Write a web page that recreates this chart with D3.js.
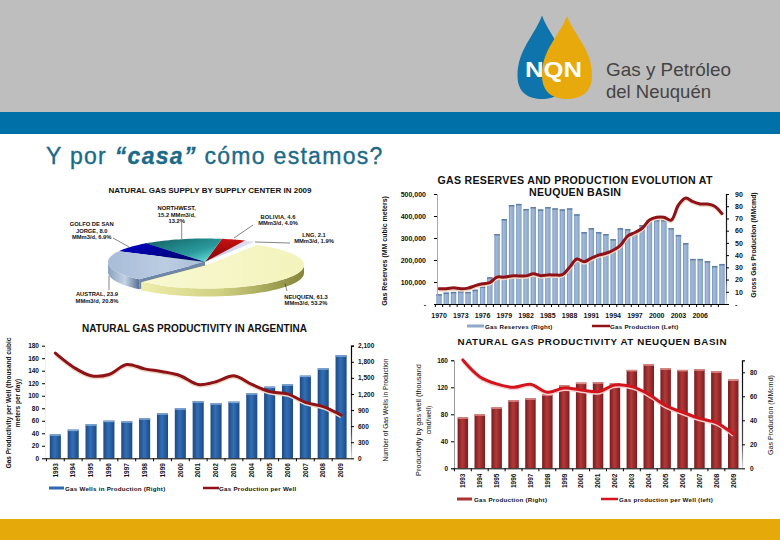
<!DOCTYPE html>
<html><head><meta charset="utf-8">
<script src="https://cdn.jsdelivr.net/npm/d3@7"></script>
<style>
html,body{margin:0;padding:0;background:#fff}
svg{display:block}
text{font-family:"Liberation Sans",Arial,sans-serif;fill:#111}
</style></head><body>
<svg id="c" width="780" height="540"></svg>
<script>
const pageTitle = ["Y por ", "“casa”", " cómo estamos?"];
const logoLines = ["Gas y Petróleo", "del Neuquén"];

const pieTitle = "NATURAL GAS SUPPLY BY SUPPLY CENTER IN 2009";
const pieNames = ["NEUQUEN","AUSTRAL","GOLFO","NORTHWEST","BOLIVIA","LNG"];
const pieValues = [61.3, 23.9, 8.0, 15.2, 4.6, 2.1];
const pieLabels = [
  ["NEUQUEN, 61.3","MMm3/d, 53.2%"],
  ["AUSTRAL, 23.9","MMm3/d, 20.8%"],
  ["GOLFO DE SAN","JORGE, 8.0","MMm3/d, 6.9%"],
  ["NORTHWEST,","15.2 MMm3/d,","13.2%"],
  ["BOLIVIA, 4.6","MMm3/d, 4.0%"],
  ["LNG, 2.1","MMm3/d, 1.9%"]
];

const reserveYears = d3.range(1970, 2010);
const reserveValues = [45,52,55,58,55,65,80,122,318,386,450,455,432,441,430,441,435,430,435,408,327,345,327,318,295,345,341,327,359,382,382,382,345,314,277,205,205,195,173,182].map(v=>v*1000);
const productionValues = [12.5,12.5,13.3,12.5,13,15,16.5,17.5,22,22,23,23,23,24.8,23.2,23.8,23.8,24,30,36.8,34.6,37.6,40,41.5,44,48,55.6,58.5,62,68.7,71,71,68.7,81,86.7,83.7,81.8,81.8,80,73.9];
const reserveTicks = [0,100000,200000,300000,400000,500000];
const productionTicks = [0,10,20,30,40,50,60,70,80,90];
const reserveYearTicks = [1970,1973,1976,1979,1982,1985,1988,1991,1994,1997,2000,2003,2006];

const prodYears = d3.range(1993, 2010);
const argWells = [447,535,634,702,690,746,839,932,1063,1026,1057,1212,1337,1380,1542,1678,1921];
const argPerWell = [168,146,132,134,150,143,138.5,132,118,122.5,132,118,106.6,103,89.5,82.6,69];
const argLeftTicks = [0,20,40,60,80,100,120,140,160,180];
const argRightTicks = [0,300,600,900,1200,1500,1800,2100];

const nqnProduction = [42.5,45,50.8,56.7,58.3,61.7,69.2,71.4,71.7,70.8,82,86.7,83.3,82,82.5,80.8,74];
const nqnPerWell = [160.5,135.8,125,120,124.4,112.6,119,116,113.5,123.5,121,109.6,92.8,83,74,67.6,51];
const nqnLeftTicks = [0,40,80,120,160];
const nqnRightTicks = [0,20,40,60,80];

const svg = d3.select("#c");
const defs = svg.append("defs");
function grad(id, stops, x2=1, y2=0){
  const g = defs.append("linearGradient").attr("id",id).attr("x1",0).attr("y1",0).attr("x2",x2).attr("y2",y2);
  stops.forEach(s=>g.append("stop").attr("offset",s[0]).attr("stop-color",s[1]));
}
grad("gRes",[[0,"#6f8db5"],[.3,"#a3bbd8"],[.8,"#8fabcd"],[1,"#7390b8"]]);
grad("gArg",[[0,"#1c4a85"],[.45,"#336fb5"],[1,"#1c4a85"]]);
grad("gNqn",[[0,"#7a1a1c"],[.45,"#b23a3a"],[1,"#7d1c1e"]]);
grad("fadeR",[[0,"#000"],[.75,"#444"],[1,"#ddd"]],0,1);
grad("gNeuSide",[[0,"#eeeeac"],[.5,"#cfcf80"],[1,"#85853a"]]);
grad("gNeuTop",[[0,"#f8f8d2"],[1,"#f3f3bc"]]);
grad("gAusTop",[[0,"#a8bcd8"],[.6,"#bccde2"],[1,"#a9bcd8"]]);
grad("gAusSide",[[0,"#8aa2c0"],[.55,"#c4d4e4"],[1,"#566e92"]]);
grad("gGol",[[0,"#0000c8"],[1,"#00006e"]],1,.6);
grad("gNw",[[0,"#125e62"],[.6,"#2a9a9c"],[1,"#7af0f0"]],1,1);
grad("gBol",[[0,"#c81010"],[1,"#7e0606"]],0,1);
grad("gLng",[[0,"#c0c0e4"],[1,"#e4e4f4"]]);

// ---------- page chrome ----------
svg.append("rect").attr("width",780).attr("height",112).attr("fill","#bebebe");
svg.append("rect").attr("y",112).attr("width",780).attr("height",22).attr("fill","#0070a8");
svg.append("rect").attr("y",519).attr("width",780).attr("height",21).attr("fill","#e6a90a");

function drop(cx, tip, bottom, hw){
  const wide = bottom - hw*.95;
  return `M${cx},${tip} C${cx+hw*.3},${tip+20} ${cx+hw},${wide-26} ${cx+hw},${wide}`+
         ` C${cx+hw},${bottom-hw*.25} ${cx+hw*.55},${bottom} ${cx},${bottom}`+
         ` C${cx-hw*.55},${bottom} ${cx-hw},${bottom-hw*.25} ${cx-hw},${wide}`+
         ` C${cx-hw},${wide-26} ${cx-hw*.3},${tip+20} ${cx},${tip}Z`;
}
svg.append("path").attr("d",drop(542,15.5,99,24.5)).attr("fill","#0e74ab");
svg.append("path").attr("d",drop(567,16,99,25)).attr("fill","#e8a90c");
svg.append("text").attr("x",553.5).attr("y",76.5).attr("text-anchor","middle").attr("font-size",22).attr("font-weight","bold").style("fill","#fff").attr("textLength",57).attr("lengthAdjust","spacingAndGlyphs").text("NQN");
const logoFont = '"Liberation Sans",Arial,sans-serif';
svg.append("text").attr("x",606).attr("y",75.5).attr("font-size",18.5).style("font-family",logoFont).style("fill","#444").attr("textLength",125).attr("lengthAdjust","spacingAndGlyphs").text(logoLines[0]);
svg.append("text").attr("x",606).attr("y",97.5).attr("font-size",18.5).style("font-family",logoFont).style("fill","#444").attr("textLength",105).attr("lengthAdjust","spacingAndGlyphs").text(logoLines[1]);

const tt = svg.append("text").attr("x",46).attr("y",164).attr("font-size",23).attr("letter-spacing",1.3).attr("stroke","#1b6a88").attr("stroke-width",.35).style("fill","#1b6a88");
pageTitle.forEach((t,i)=>tt.append("tspan").attr("font-style",i==1?"italic":"normal").attr("font-weight",i==1?"bold":"normal").text(t));

// ---------- combo charts ----------
function rotLabel(x, y, lines, size, bold){
  const t = svg.append("text").attr("transform",`translate(${x},${y}) rotate(-90)`).attr("text-anchor","middle").attr("font-size",size);
  if(bold) t.attr("font-weight","bold");
  t.text(lines);
}
function legend(x1,x2,y,stroke,textX,label,size,h){
  svg.append("rect").attr("x",x1).attr("y",y-h/2).attr("width",x2-x1).attr("height",h).attr("fill",stroke);
  svg.append("text").attr("x",textX).attr("y",y+2.5).attr("font-size",size).attr("font-weight","bold").attr("letter-spacing",.25).text(label);
}
function combo(c){
  const x = d3.scaleBand().domain(c.years).range(c.xr);
  const yBar = d3.scaleLinear().domain(c.barDomain).range([c.y0,c.y1]);
  const yLine = d3.scaleLinear().domain(c.lineDomain).range([c.y0,c.y1]);
  const bw = x.step()*c.barRatio;
  const g = svg.append("g");
  g.selectAll("rect.b").data(c.years).join("rect").attr("class","b")
    .attr("x",d=>x(d)+(x.step()-bw)/2).attr("width",bw)
    .attr("y",(d,i)=>yBar(c.bars[i])).attr("height",(d,i)=>c.y0-yBar(c.bars[i]))
    .attr("fill",`url(#${c.barFill})`);
  g.selectAll("rect.cap").data(c.years).join("rect").attr("class","cap")
    .attr("x",d=>x(d)+(x.step()-bw)/2).attr("width",bw)
    .attr("y",(d,i)=>yBar(c.bars[i])).attr("height",1.5)
    .attr("fill",c.capFill);
  const line = d3.line().x((d,i)=>x(c.years[i])+x.step()/2).y(d=>yLine(d)).curve(d3.curveCatmullRom.alpha(.5));
  g.append("path").attr("d",line(c.line)).attr("fill","none").attr("stroke",c.lineShadow).attr("stroke-width",c.lineW).attr("transform","translate(0,1.5)");
  g.append("path").attr("d",line(c.line)).attr("fill","none").attr("stroke",c.lineColor).attr("stroke-width",c.lineW).attr("stroke-linecap","round");

  const style = (a,size)=>{
    a.selectAll("text").attr("font-size",size).attr("font-weight","bold").style("font-family",'"Liberation Sans",Arial,sans-serif').style("fill","#111");
    a.selectAll(".tick line").attr("stroke","#000");
  };
  const left = svg.append("g").attr("transform",`translate(${c.xl},0)`)
    .call(d3.axisLeft(c.leftIsBar?yBar:yLine).tickValues(c.leftTicks).tickSize(3).tickPadding(c.leftPad).tickFormat(c.leftFmt));
  style(left,c.tickSize);
  left.select(".domain").attr("stroke",c.leftAxisColor);
  const right = svg.append("g").attr("transform",`translate(${c.xR},0)`)
    .call(d3.axisRight(c.leftIsBar?yLine:yBar).tickValues(c.rightTicks).tickSize(3).tickPadding(c.rightPad).tickFormat(c.rightFmt));
  style(right,c.tickSize);
  right.select(".domain").attr("stroke","url(#fadeR)").attr("stroke-width",1.2);

  const base = svg.append("g").attr("transform",`translate(0,${c.y0})`)
    .call(d3.axisBottom(x).tickValues(c.xTicks).tickSize(0).tickPadding(c.xPad));
  base.select(".domain").remove();
  style(base,c.xSize);
  svg.append("line").attr("x1",c.xl).attr("x2",c.xR).attr("y1",c.y0+.5).attr("y2",c.y0+.5).attr("stroke","#000");
  svg.append("g").selectAll("line").data(c.years).join("line")
    .attr("x1",d=>x(d)).attr("x2",d=>x(d)).attr("y1",c.y0).attr("y2",c.y0+3).attr("stroke","#000");
  if(c.rotate){
    base.selectAll(".tick text").attr("y",null).attr("dy",".35em").attr("text-anchor","middle")
      .attr("transform",`translate(0,${c.xPad}) rotate(-90)`);
  }
}
const fmtC = d3.format(",");
combo({years:reserveYears,xr:[435.4,725.6],barRatio:.74,barDomain:[0,500000],lineDomain:[0,90],y0:304,y1:194,
  bars:reserveValues,line:productionValues,barFill:"gRes",capFill:"#5f7ea8",lineColor:"#8e1216",lineShadow:"#f0d8c8",lineW:3,
  xl:437,xR:726,leftIsBar:true,leftTicks:reserveTicks,rightTicks:productionTicks,
  leftFmt:d=>d===0?"-":fmtC(d),rightFmt:d=>d===0?"-":d,leftPad:8,rightPad:6,tickSize:7,leftAxisColor:"#aaa",
  xTicks:reserveYearTicks,xPad:9,xSize:7,rotate:false});
combo({years:prodYears,xr:[46.4,350],barRatio:.62,barDomain:[0,2100],lineDomain:[0,180],y0:458.3,y1:345.7,
  bars:argWells,line:argPerWell,barFill:"gArg",capFill:"#7fa6d6",lineColor:"#8e1216",lineShadow:"#f0d8c8",lineW:3,
  xl:45,xR:351,leftIsBar:false,leftTicks:argLeftTicks,rightTicks:argRightTicks,
  leftFmt:d=>d,rightFmt:fmtC,leftPad:3,rightPad:4,tickSize:6.5,leftAxisColor:"#eee",
  xTicks:prodYears,xPad:12,xSize:6.5,rotate:true});
combo({years:prodYears,xr:[454.4,741.7],barRatio:.62,barDomain:[0,90],lineDomain:[0,160],y0:468.3,y1:360.3,
  bars:nqnProduction,line:nqnPerWell,barFill:"gNqn",capFill:"#dc8a88",lineColor:"#d4141c",lineShadow:"#f3cfcf",lineW:3,
  xl:454,xR:742,leftIsBar:false,leftTicks:nqnLeftTicks,rightTicks:nqnRightTicks,
  leftFmt:d=>d,rightFmt:d=>d,leftPad:3,rightPad:5,tickSize:6.5,leftAxisColor:"#999",
  xTicks:prodYears,xPad:12.5,xSize:6.5,rotate:true});

// titles
function heading(x,y,t,size,len){
  svg.append("text").attr("x",x).attr("y",y).attr("text-anchor","middle").attr("font-size",size).attr("font-weight","bold").attr("textLength",len).attr("lengthAdjust","spacing").text(t);
}
heading(575,184,"GAS RESERVES AND PRODUCTION EVOLUTION AT",10.6,275);
heading(575,196,"NEUQUEN BASIN",10.6,92);
heading(194.5,332,"NATURAL GAS PRODUCTIVITY IN ARGENTINA",10,225);
heading(592,345,"NATURAL GAS PRODUCTIVITY AT NEUQUEN BASIN",9.8,269);

// axis titles
rotLabel(387,251,"Gas Reserves (MM cubic meters)",7,true);
rotLabel(756,245,"Gross Gas Production (MMcmd)",6.9,true);
rotLabel(11,403,"Gas Productivity per Well (thousand cubic",6.5,true);
rotLabel(20,403,"meters per day)",6.5,true);
rotLabel(388,410,"Number of Gas Wells in Production",6.6,false);
rotLabel(421,420,"Productivity by gas well (thousand",7.4,false);
rotLabel(431,420,"cmd/well)",6.8,false);
rotLabel(773,415,"Gas Production (MMcmd)",7,false);

// legends
legend(467,484,326,"#8ea9c9",485,"Gas Reserves  (Right)",6.2,3);
legend(592,610,326,"#8e1216",610,"Gas Production  (Left)",6.2,2.5);
legend(49,64,488,"#2f68ad",65,"Gas Wells in Production (Right)",6.2,3);
legend(203,219,488,"#8e1216",219,"Gas Production per Well",6.2,2.5);
legend(457,472,499,"#a83234",474,"Gas Production (Right)",6.2,3);
legend(601,618,499,"#d4141c",619,"Gas production per Well (left)",6.2,2.5);

// ---------- pie ----------
const cx=205, cy=262, rx=97, ry=23.5, depthN=8, depthA=10;
const rad = Math.PI/180;
const pie = d3.pie().sort(null).startAngle(31*rad).endAngle(391*rad)(pieValues);
const px = a=>cx+rx*Math.sin(a), py = a=>cy-ry*Math.cos(a);
const line2 = d3.line().x(d=>d[0]).y(d=>d[1]);
function samples(a0,a1){const n=Math.max(2,Math.ceil((a1-a0)/(2*rad)));return d3.range(n+1).map(i=>a0+(a1-a0)*i/n);}
function topPath(s){return line2([[cx,cy],...samples(s.startAngle,s.endAngle).map(a=>[px(a),py(a)])])+"Z";}
function sidePath(s,depth){
  const a0=Math.max(s.startAngle,90*rad), a1=Math.min(s.endAngle,270*rad);
  if(a1<=a0) return null;
  const ss=samples(a0,a1);
  return line2([...ss.map(a=>[px(a),py(a)]),...ss.reverse().map(a=>[px(a),py(a)+depth])])+"Z";
}
function wallPath(a,depth){return line2([[cx,cy],[px(a),py(a)],[px(a),py(a)+depth],[cx,cy+depth]])+"Z";}
const topFill=["url(#gNeuTop)","url(#gAusTop)","url(#gGol)","url(#gNw)","url(#gBol)","url(#gLng)"];
const sideFill=["url(#gNeuSide)","url(#gAusSide)"];
const pg = svg.append("g");
pg.append("path").attr("d",wallPath(pie[2].endAngle,depthN)).attr("fill","#0a4a50");
[5,4,3,2].forEach(i=>pg.append("path").attr("d",topPath(pie[i])).attr("fill",topFill[i]));
pg.append("path").attr("d",sidePath(pie[1],depthA)).attr("fill",sideFill[1]);
pg.append("path").attr("d",wallPath(pie[1].startAngle,depthA)).attr("fill","#6e86a8");
pg.append("path").attr("d",topPath(pie[1])).attr("fill",topFill[1]);
const ng = pg.append("g").attr("transform","translate(2,3)");
ng.append("path").attr("d",wallPath(pie[0].endAngle,depthN)).attr("fill","#b0b068");
ng.append("path").attr("d",sidePath(pie[0],depthN)).attr("fill",sideFill[0]);
ng.append("path").attr("d",topPath(pie[0])).attr("fill",topFill[0]);

// leader lines and labels
const leaderAt = [[285,283.5,287,291],[109,276,109,290],[113,238,129,247],[181.7,239,181.7,223],[234,238,253,225],[255,242,290,243]];
leaderAt.forEach(l=>svg.append("line").attr("x1",l[0]).attr("y1",l[1]).attr("x2",l[2]).attr("y2",l[3]).attr("stroke","#333").attr("stroke-width",.6));
const labelAt = [[306,298.5],[97,296],[91.7,226],[176.7,210],[278,218.5],[314,236.5]];
pieLabels.forEach((ls,i)=>{
  ls.forEach((t,j)=>svg.append("text").attr("x",labelAt[i][0]).attr("y",labelAt[i][1]+j*6.6).attr("text-anchor","middle")
    .attr("font-size",5.8).attr("font-weight","bold").text(t));
});
heading(210,193,pieTitle,8,203);
</script>
</body></html>
